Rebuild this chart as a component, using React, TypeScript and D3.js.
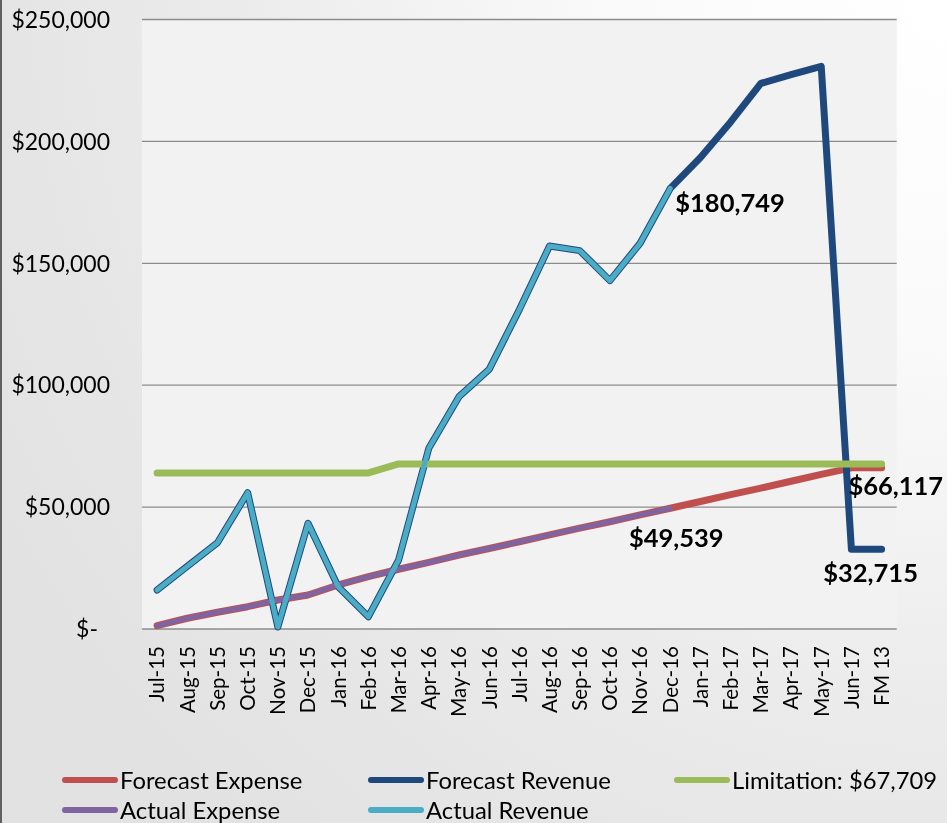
import React from "react";
import * as d3 from "d3";

const categories = [
  "Jul-15", "Aug-15", "Sep-15", "Oct-15", "Nov-15", "Dec-15", "Jan-16", "Feb-16", "Mar-16",
  "Apr-16", "May-16", "Jun-16", "Jul-16", "Aug-16", "Sep-16", "Oct-16", "Nov-16", "Dec-16",
  "Jan-17", "Feb-17", "Mar-17", "Apr-17", "May-17", "Jun-17", "FM 13",
];

const actualExpense = [
  1350, 4400, 6850, 9150, 11900, 13950, 18050, 21450, 24500, 27300, 30350, 33000,
  35800, 38600, 41400, 44000, 46800, 49539,
];
const forecastExpense = [
  ...actualExpense, 52300, 55100, 57800, 60600, 63400, 66117, 66117,
];
const actualRevenue = [
  16000, 25700, 35400, 55900, 800, 43350, 17350, 5050, 28300, 74100, 95300, 106500,
  131000, 157100, 155200, 142900, 158200, 180749,
];
const forecastRevenue = [
  ...actualRevenue, 193400, 208000, 223800, 227400, 230800, 32715, 32715,
];
const limitation = [
  64000, 64000, 64000, 64000, 64000, 64000, 64000, 64000, 67709, 67709, 67709, 67709,
  67709, 67709, 67709, 67709, 67709, 67709, 67709, 67709, 67709, 67709, 67709, 67709, 67709,
];

const yTicks = [0, 50000, 100000, 150000, 200000, 250000];

const legendItems = [
  { name: "Forecast Expense", color: "#C0504D" },
  { name: "Forecast Revenue", color: "#1F497D" },
  { name: "Limitation: $67,709", color: "#9BBB59" },
  { name: "Actual Expense", color: "#8064A2" },
  { name: "Actual Revenue", color: "#4BACC6" },
];

const W = 947;
const H = 823;
const plot = { left: 142, right: 896.7, top: 19.5, bottom: 629 };
const FONT = "Lato, 'Open Sans', sans-serif";

export default function App() {
  const x = d3.scalePoint<string>().domain(categories).range([plot.left, plot.right]).padding(0.5);
  const y = d3.scaleLinear().domain([0, 250000]).range([plot.bottom, plot.top]);
  const fmt = d3.format("$,.0f");

  const line = d3
    .line<number>()
    .x((_, i) => x(categories[i]) as number)
    .y((d) => y(d));

  const series = [
    { data: forecastExpense, color: "#C0504D", w: 7 },
    { data: forecastRevenue, color: "#1F497D", w: 7 },
    { data: limitation, color: "#9BBB59", w: 7 },
    { data: actualExpense, color: "#8064A2", w: 5 },
    { data: actualRevenue, color: "#4BACC6", w: 5 },
  ];

  const labels = [
    { v: actualRevenue[17], i: 17, dx: 5, dy: 14, anchor: "start" },
    { v: actualExpense[17], i: 17, dx: 6, dy: 30, anchor: "middle" },
    { v: forecastExpense[23], i: 23, dx: -3, dy: 18, anchor: "start" },
    { v: forecastRevenue[24], i: 24, dx: -11, dy: 24, anchor: "middle" },
  ];

  const legendPos = [
    { x: 62, y: 780 },
    { x: 368, y: 780 },
    { x: 674, y: 780 },
    { x: 62, y: 810 },
    { x: 368, y: 810 },
  ];

  return (
    <svg
      width={W}
      height={H}
      style={{ position: "fixed", left: 0, top: 0, fontFamily: FONT }}
    >
      <defs>
        <radialGradient id="bg" cx={W} cy={0} r={1100} gradientUnits="userSpaceOnUse">
          <stop offset="0" stopColor="#ffffff" />
          <stop offset="0.3" stopColor="#fafafa" />
          <stop offset="0.45" stopColor="#f4f4f4" />
          <stop offset="0.65" stopColor="#ebebeb" />
          <stop offset="0.85" stopColor="#e5e5e5" />
          <stop offset="1" stopColor="#e2e2e2" />
        </radialGradient>
      </defs>
      <rect x={0} y={0} width={W} height={H} fill="url(#bg)" />
      <rect x={0} y={0} width={2} height={H} fill="#606060" />
      <rect
        x={plot.left}
        y={plot.top}
        width={plot.right - plot.left}
        height={plot.bottom - plot.top}
        fill="#f2f2f2"
      />
      {yTicks.map((t) => (
        <g key={t}>
          <line
            x1={plot.left}
            x2={plot.right}
            y1={y(t)}
            y2={y(t)}
            stroke="#8c8c8c"
            strokeWidth={1.3}
          />
          <text
            x={t === 0 ? 98 : 110}
            y={y(t)}
            dy="0.36em"
            textAnchor="end"
            fontSize={23}
            fill="#000"
          >
            {t === 0 ? "$-" : fmt(t)}
          </text>
        </g>
      ))}
      {categories.map((c) => (
        <text
          key={c}
          transform={`translate(${x(c)},646) rotate(-90)`}
          textAnchor="end"
          dy="0.36em"
          fontSize={20.5}
          fill="#000"
        >
          {c}
        </text>
      ))}
      {series.map((s, k) => (
        <path
          key={k}
          d={line(s.data) as string}
          fill="none"
          stroke={s.color}
          strokeWidth={s.w}
          strokeLinejoin="round"
          strokeLinecap="round"
        />
      ))}
      {labels.map((l, k) => (
        <text
          key={k}
          x={(x(categories[l.i]) as number) + l.dx}
          y={y(l.v) + l.dy}
          dy="0.36em"
          textAnchor={l.anchor as any}
          fontSize={25.5}
          fontWeight="bold"
          fill="#000"
        >
          {fmt(l.v)}
        </text>
      ))}
      {legendItems.map((it, k) => (
        <g key={it.name}>
          <line
            x1={legendPos[k].x + 3}
            x2={legendPos[k].x + 53}
            y1={legendPos[k].y}
            y2={legendPos[k].y}
            stroke={it.color}
            strokeWidth={6}
            strokeLinecap="round"
          />
          <text
            x={legendPos[k].x + 58}
            y={legendPos[k].y}
            dy="0.36em"
            fontSize={23.8}
            fill="#000"
          >
            {it.name}
          </text>
        </g>
      ))}
    </svg>
  );
}
